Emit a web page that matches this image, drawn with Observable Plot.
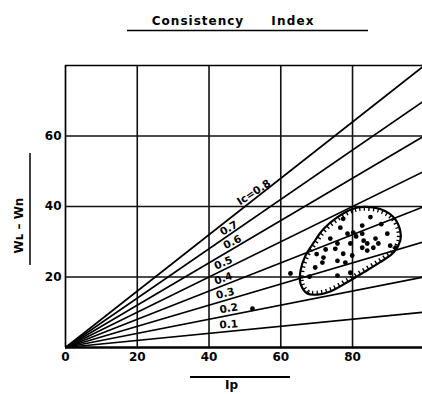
<!DOCTYPE html>
<html><head><meta charset="utf-8">
<script src="https://cdn.jsdelivr.net/npm/d3@7"></script>
<script src="https://cdn.jsdelivr.net/npm/@observablehq/plot@0.6"></script>
<style>body{margin:0;background:#fff}</style>
</head><body><div id="chart"></div>
<script>
// Consistency index lines  Ic = (WL - Wn) / Ip
const icValues = [0.1, 0.2, 0.3, 0.4, 0.5, 0.6, 0.7, 0.8];
const icLabels = ["0.1", "0.2", "0.3", "0.4", "0.5", "0.6", "0.7", "Ic=0.8"];
const icLabelIp = [45.5, 45.5, 44.5, 44, 44, 46.5, 45.5, 52.5];
const xTicks = [0, 20, 40, 60, 80];
const yTicks = [20, 40, 60];
// outline of the hatched zone
const zoneIp = [65.5, 67.4, 70.1, 73.8, 78.5, 83.1, 87.7, 91.5, 93.3, 93.3, 91.5, 87.7, 83.1, 79.9, 75.7, 71.9, 69.2, 66.9, 65.5];
const zoneW  = [18.1, 15.3, 15.0, 15.9, 18.5, 21.3, 24.2, 27.0, 30.3, 33.1, 36.9, 39.3, 39.9, 39.3, 36.9, 33.6, 29.8, 26.1, 21.8];
// soil samples
const sampleIp = [76.6, 78.6, 80.2, 82.7, 82.7, 84.1, 86.4, 87.2, 89.7, 90.5, 85.8, 82.7, 79.4, 75.8, 77.4, 79.9, 75.8, 78.0, 71.6, 69.6, 68.0, 73.8, 77.4, 75.2, 83.1, 92.0, 84.1, 71.9, 75.8, 79.4, 81.0, 85.0, 88.0, 72.5, 70.0, 52.1, 62.7];
const sampleW  = [34.0, 32.3, 32.6, 34.6, 32.3, 29.5, 30.9, 29.5, 32.3, 28.9, 28.3, 28.3, 29.5, 29.5, 26.6, 26.1, 24.6, 24.1, 24.1, 22.7, 20.1, 30.9, 36.5, 28.0, 30.3, 28.3, 27.5, 25.5, 20.4, 21.2, 31.5, 37.0, 35.0, 27.8, 26.5, 11.0, 21.0];

const xMax = 99.5, yMax = 80;
const W = 422, H = 394, mL = 65, mR = 0, mT = 65, mB = 47;
const kx = (W - mL - mR) / xMax, ky = (H - mT - mB) / yMax;
const HATCH = "#010101";

const lines = icValues.map((ic) => ({ic, x1: 0, y1: 0, x2: xMax, y2: ic * xMax}));
const labels = icValues.map((ic, i) => ({
  text: icLabels[i], x: icLabelIp[i], y: ic * icLabelIp[i],
  rot: -Math.atan(ic * ky / kx) * 180 / Math.PI * 0.87
}));
const zone = zoneIp.map((x, i) => ({x, y: zoneW[i]}));
const samples = sampleIp.map((x, i) => ({x, y: sampleW[i]}));

const chart = Plot.plot({
  width: W, height: H, marginLeft: mL, marginRight: mR, marginTop: mT, marginBottom: mB,
  x: {domain: [0, xMax], label: null},
  y: {domain: [0, yMax], label: null},
  style: {fontFamily: "DejaVu Sans", color: "#000", background: "#fff"},
  marks: [
    Plot.ruleX(xTicks.slice(1), {stroke: "#111", strokeWidth: 1.6}),
    Plot.ruleY(yTicks, {stroke: "#111", strokeWidth: 1.6}),
    Plot.ruleX([0], {stroke: "#000", strokeWidth: 1.7}),
    Plot.ruleY([yMax], {stroke: "#000", strokeWidth: 1.7}),
    Plot.ruleY([0], {stroke: "#000", strokeWidth: 2.3}),
    Plot.link(lines, {x1: "x1", y1: "y1", x2: "x2", y2: "y2", stroke: "#000", strokeWidth: 1.7}),
    Plot.line(zone, {x: "x", y: "y", curve: "catmull-rom-closed", stroke: HATCH, strokeWidth: 8, strokeDasharray: "1.4 3.4", strokeLinecap: "butt", strokeLinejoin: "miter"}),
    Plot.line(zone, {x: "x", y: "y", curve: "catmull-rom-closed", stroke: "#000", strokeWidth: 2.2}),
    Plot.dot(samples, {x: "x", y: "y", r: 2.4, fill: "#000", stroke: null}),
    Plot.text(labels, {x: "x", y: "y", text: "text", rotate: "rot", dy: -7, fontSize: 10.5, fontWeight: "bold", fill: "#000"}),
    Plot.axisX(xTicks, {tickSize: 0, tickPadding: 5, fontSize: 12, fontWeight: "bold", label: null}),
    Plot.axisY(yTicks, {tickSize: 0, tickPadding: 4, fontSize: 12, fontWeight: "bold", label: null}),
    Plot.text(["Wʟ – Wn"], {frameAnchor: "left", textAnchor: "middle", dx: -46, dy: 19, rotate: -90, fontSize: 12, fontWeight: "bold"}),
    Plot.text(["Ip"], {frameAnchor: "bottom", textAnchor: "middle", dx: 231 - (mL + (W - mL - mR) / 2), dy: 41, fontSize: 12, fontWeight: "bold"})
  ]
});
document.getElementById("chart").appendChild(chart);

// hatch kept only on the inside of the zone
const svg = d3.select(chart);
const hatchPath = svg.select(`g[stroke="${HATCH}"] path`);
if (!hatchPath.empty()) {
  const cp = svg.append("clipPath").attr("id", "zoneclip").attr("clipPathUnits", "userSpaceOnUse");
  cp.append("path").attr("d", hatchPath.attr("d"));
  hatchPath.attr("clip-path", "url(#zoneclip)");
}
// title and underlines
svg.append("text").attr("x", 198).attr("y", 25).attr("text-anchor", "middle")
  .attr("font-family", "DejaVu Sans").attr("font-weight", "bold").attr("font-size", 12)
  .attr("letter-spacing", 1).text("Consistency");
svg.append("text").attr("x", 293).attr("y", 25).attr("text-anchor", "middle")
  .attr("font-family", "DejaVu Sans").attr("font-weight", "bold").attr("font-size", 12)
  .attr("letter-spacing", 1.2).text("Index");
svg.append("line").attr("x1", 127).attr("x2", 368).attr("y1", 30.5).attr("y2", 30.5).attr("stroke", "#000").attr("stroke-width", 1.5);
svg.append("line").attr("x1", 190).attr("x2", 290).attr("y1", 377).attr("y2", 377).attr("stroke", "#000").attr("stroke-width", 1.8);
svg.append("line").attr("x1", 30).attr("x2", 30).attr("y1", 153).attr("y2", 265).attr("stroke", "#000").attr("stroke-width", 1.5);
</script></body></html>
